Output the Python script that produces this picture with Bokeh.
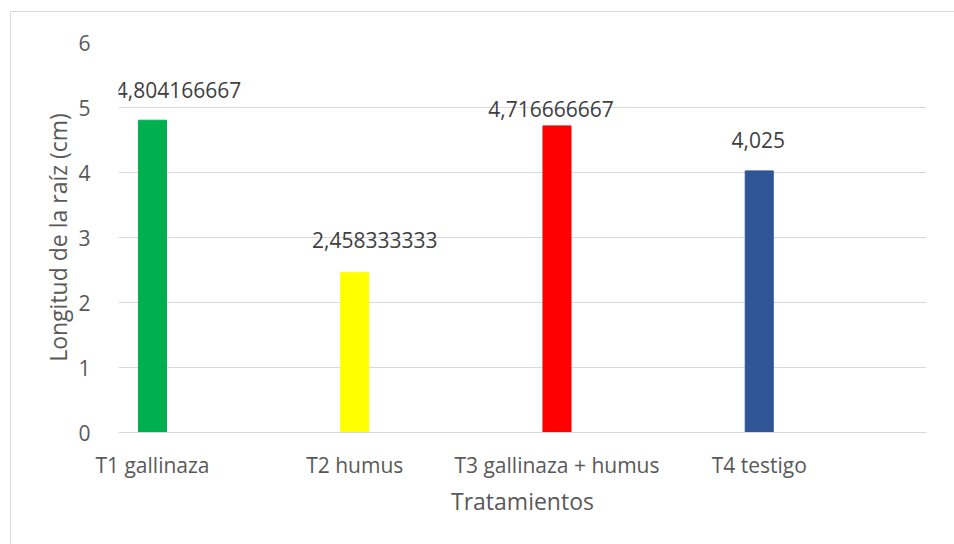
from bokeh.plotting import figure
from bokeh.models import FixedTicker, ColumnDataSource
from bokeh.core.properties import value
from bokeh.embed import file_html
from bokeh.resources import INLINE

categories = ["T1 gallinaza", "T2 humus", "T3 gallinaza + humus", "T4 testigo"]
values = [4.804166667, 2.458333333, 4.716666667, 4.025]
colors = ["#00B050", "#FFFF00", "#FF0000", "#2F5597"]
y_ticks = [0, 1, 2, 3, 4, 5, 6]

# label placement (pixels) as in the reference
label_dx = [26, 20, -6, -1]
label_dy = [-30, -33, -17, -31]

FONT = "Open Sans"

xs = list(range(len(categories)))
labels = [f"{v:.10g}".replace(".", ",") for v in values]

src = ColumnDataSource(dict(x=xs, top=values, color=colors, label=labels,
                            dx=label_dx, dy=label_dy))

p = figure(width=944, height=533, output_backend="svg", toolbar_location=None,
           x_range=(-0.168, 3.827), y_range=(0, 6),
           min_border_left=107, min_border_right=29, min_border_top=30,
           min_border_bottom=113)
p.margin = (11, 0, 0, 10)
p.styles = {"border-left": "1px solid #d9d9d9", "border-top": "1px solid #d9d9d9"}
p.outline_line_color = None
p.background_fill_color = "white"
p.border_fill_color = "white"

p.vbar(x="x", top="top", width=0.1386, color="color", source=src)
p.text(x="x", y="top", text="label", x_offset="dx", y_offset="dy", source=src,
       text_align="center", text_baseline="middle",
       text_font=value(FONT), text_font_size="21px", text_color="#404040")

p.xgrid.visible = False
p.ygrid.grid_line_color = "#d9d9d9"
p.ygrid.grid_line_width = 1
p.yaxis.ticker = FixedTicker(ticks=y_ticks)
p.xaxis.ticker = FixedTicker(ticks=xs)
p.xaxis.major_label_overrides = {i: c for i, c in enumerate(categories)}

for ax in (p.xaxis[0], p.yaxis[0]):
    ax.major_tick_line_color = None
    ax.minor_tick_line_color = None
    ax.major_label_text_font = FONT
    ax.major_label_text_font_size = "21px"
    ax.major_label_text_color = "#595959"
    ax.axis_label_text_font = FONT
    ax.axis_label_text_font_size = "23px"
    ax.axis_label_text_font_style = "normal"
    ax.axis_label_text_color = "#595959"

p.yaxis.axis_line_color = None
p.xaxis.axis_line_color = "#d9d9d9"
p.yaxis.major_label_standoff = 22
p.xaxis.major_label_standoff = 12
p.xaxis.axis_label = "Tratamientos"
p.yaxis.axis_label = "Longitud de la raíz (cm)"
p.xaxis.axis_label_standoff = 3
p.yaxis.axis_label_standoff = 1

open("out.html", "w").write(file_html(p, INLINE))
